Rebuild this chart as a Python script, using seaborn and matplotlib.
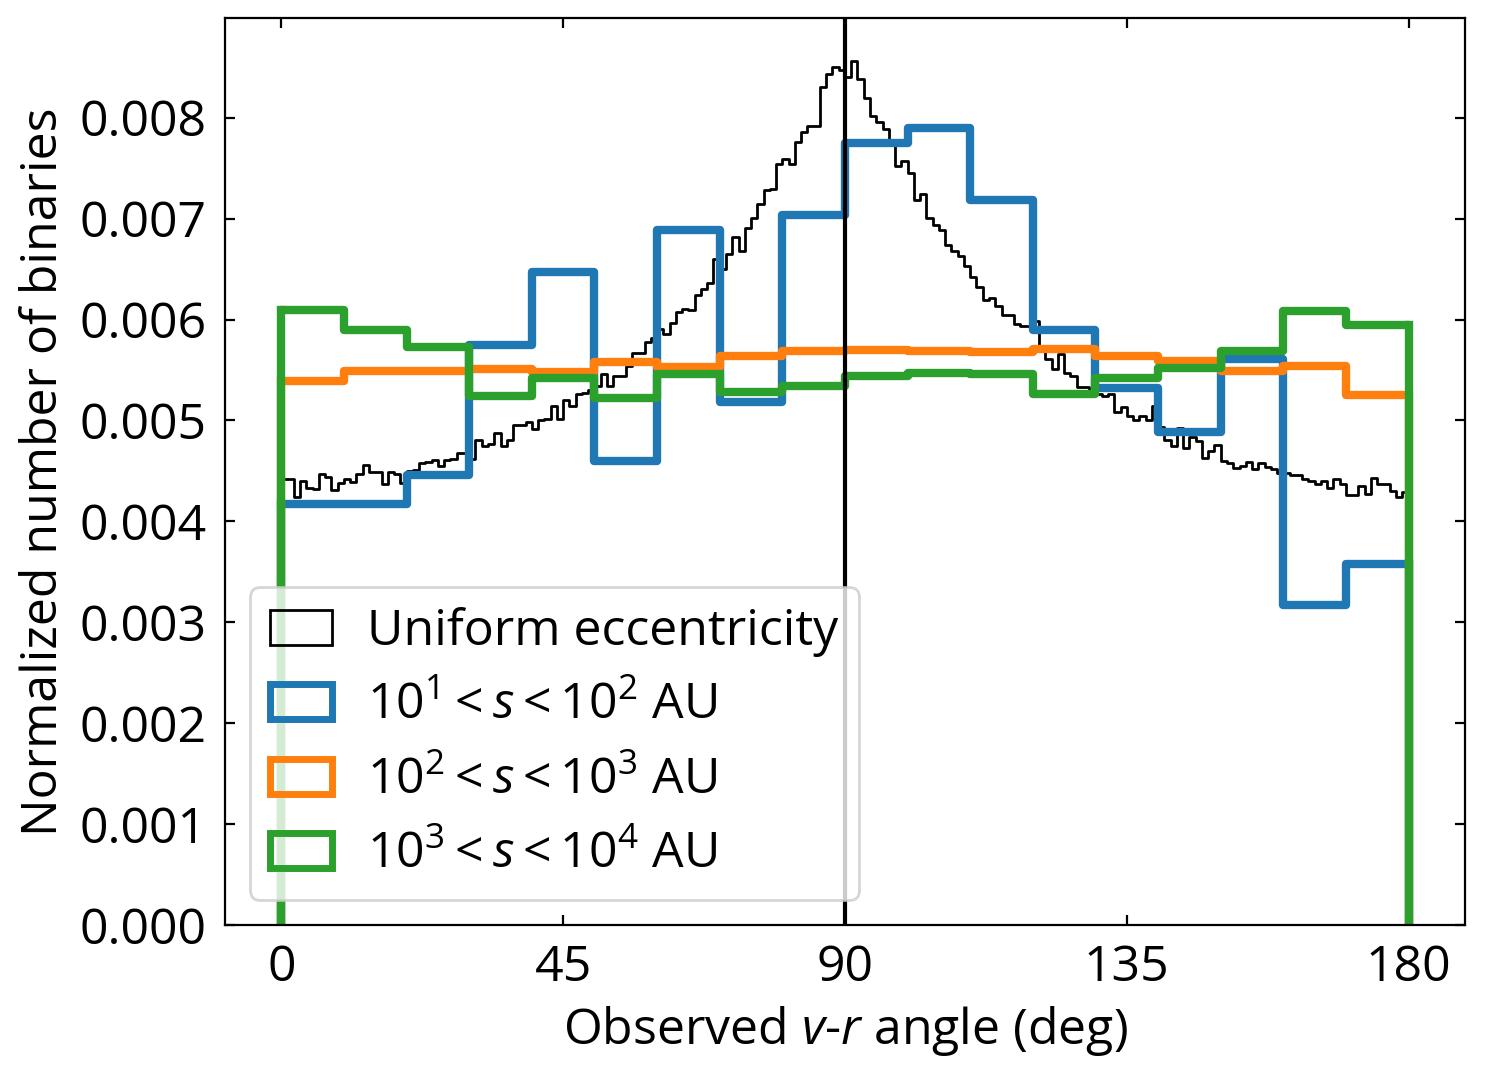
import numpy as np
import pandas as pd
import matplotlib
matplotlib.use("Agg")
import matplotlib.pyplot as plt
import seaborn as sns
from matplotlib.patches import Patch
from matplotlib.ticker import FormatStrFormatter

# ---------------- data ----------------
fine_edges = list(range(0, 181, 1))      # 1-degree bins
coarse_edges = list(range(0, 181, 10))   # 10-degree bins

uniform_ecc = [
    0.00442, 0.00442, 0.00424, 0.00440, 0.00433, 0.00432, 0.00447, 0.00444, 0.00431, 0.00438,
    0.00442, 0.00439, 0.00447, 0.00456, 0.00449, 0.00449, 0.00437, 0.00449, 0.00447, 0.00438,
    0.00450, 0.00451, 0.00458, 0.00459, 0.00461, 0.00455, 0.00461, 0.00462, 0.00468, 0.00468,
    0.00462, 0.00481, 0.00475, 0.00477, 0.00488, 0.00475, 0.00481, 0.00495, 0.00495, 0.00498,
    0.00492, 0.00500, 0.00501, 0.00514, 0.00501, 0.00520, 0.00514, 0.00526, 0.00527, 0.00530,
    0.00534, 0.00546, 0.00534, 0.00544, 0.00544, 0.00554, 0.00567, 0.00567, 0.00578, 0.00582,
    0.00591, 0.00586, 0.00597, 0.00607, 0.00610, 0.00609, 0.00624, 0.00630, 0.00636, 0.00660,
    0.00650, 0.00665, 0.00682, 0.00668, 0.00691, 0.00701, 0.00714, 0.00728, 0.00729, 0.00754,
    0.00759, 0.00754, 0.00776, 0.00786, 0.00792, 0.00792, 0.00830, 0.00843, 0.00850, 0.00847,
    0.00840, 0.00856, 0.00838, 0.00820, 0.00802, 0.00796, 0.00789, 0.00777, 0.00752, 0.00757,
    0.00745, 0.00718, 0.00724, 0.00701, 0.00694, 0.00689, 0.00674, 0.00668, 0.00663, 0.00653,
    0.00642, 0.00632, 0.00619, 0.00621, 0.00613, 0.00604, 0.00604, 0.00596, 0.00594, 0.00594,
    0.00599, 0.00570, 0.00561, 0.00551, 0.00566, 0.00547, 0.00544, 0.00533, 0.00533, 0.00530,
    0.00526, 0.00524, 0.00526, 0.00508, 0.00513, 0.00504, 0.00500, 0.00504, 0.00500, 0.00514,
    0.00494, 0.00481, 0.00475, 0.00493, 0.00473, 0.00484, 0.00480, 0.00463, 0.00470, 0.00476,
    0.00460, 0.00458, 0.00453, 0.00455, 0.00459, 0.00452, 0.00458, 0.00454, 0.00452, 0.00448,
    0.00448, 0.00446, 0.00446, 0.00442, 0.00440, 0.00437, 0.00440, 0.00433, 0.00442, 0.00437,
    0.00426, 0.00426, 0.00435, 0.00427, 0.00443, 0.00437, 0.00437, 0.00430, 0.00424, 0.00429,
]

sep_1e1_1e2 = [0.00417, 0.00417, 0.00446, 0.00575, 0.00647, 0.00460, 0.00689, 0.00518, 0.00704,
               0.00775, 0.00790, 0.00718, 0.00590, 0.00532, 0.00489, 0.00561, 0.00317, 0.00358]
sep_1e2_1e3 = [0.00539, 0.00549, 0.00549, 0.00551, 0.00548, 0.00558, 0.00553, 0.00564, 0.00569,
               0.00570, 0.00569, 0.00568, 0.00571, 0.00564, 0.00559, 0.00549, 0.00554, 0.00525]
sep_1e3_1e4 = [0.00609, 0.00590, 0.00573, 0.00524, 0.00542, 0.00522, 0.00546, 0.00528, 0.00534,
               0.00544, 0.00547, 0.00546, 0.00526, 0.00542, 0.00552, 0.00569, 0.00608, 0.00595]

legend_labels = ["Uniform eccentricity",
                 r"$10^1 < s < 10^2$ AU",
                 r"$10^2 < s < 10^3$ AU",
                 r"$10^3 < s < 10^4$ AU"]
x_ticks = [0, 45, 90, 135, 180]
y_ticks = [0.000, 0.001, 0.002, 0.003, 0.004, 0.005, 0.006, 0.007, 0.008]
ref_angle = 90

# ---------------- style ----------------
FS = 18
sns.set_style("ticks")
plt.rcParams.update({
    "font.family": ["Open Sans", "DejaVu Sans"],
    "font.size": FS,
    "mathtext.fontset": "custom",
    "mathtext.rm": "Open Sans",
    "mathtext.it": "Open Sans:italic",
    "mathtext.bf": "Open Sans:bold",
    "axes.edgecolor": "black",
    "axes.linewidth": 0.8,
    "text.color": "black",
    "axes.labelcolor": "black",
    "xtick.color": "black",
    "ytick.color": "black",
    "xtick.direction": "in",
    "ytick.direction": "in",
    "xtick.top": True,
    "ytick.right": True,
    "xtick.major.size": 3.5,
    "ytick.major.size": 3.5,
    "xtick.major.width": 0.8,
    "ytick.major.width": 0.8,
    "xtick.major.pad": 6.5,
    "ytick.major.pad": 6.5,
    "xtick.labelsize": FS,
    "ytick.labelsize": FS,
    "axes.labelsize": FS,
    "legend.fontsize": FS,
})

fig = plt.figure(figsize=(7.425, 5.385), dpi=200)
ax = fig.add_axes([0.1515, 0.1411, 0.835, 0.8422])

series = [
    (fine_edges, uniform_ecc, "black", 1.0),
    (coarse_edges, sep_1e1_1e2, "#1f77b4", 3.0),
    (coarse_edges, sep_1e2_1e3, "#ff7f0e", 3.0),
    (coarse_edges, sep_1e3_1e4, "#2ca02c", 3.0),
]

for edges, vals, color, lw in series:
    e = np.asarray(edges, dtype=float)
    df = pd.DataFrame({"angle": (e[:-1] + e[1:]) / 2, "w": np.asarray(vals, dtype=float)})
    sns.histplot(data=df, x="angle", weights="w", bins=list(edges), element="step",
                 fill=False, color=color, linewidth=lw, ax=ax)
    # outer edges of the step outline down to the baseline
    ax.vlines([edges[0], edges[-1]], 0, [vals[0], vals[-1]], colors=color,
              linewidth=lw, capstyle="projecting")

ax.axvline(ref_angle, color="black", linewidth=1.5, zorder=5)

ax.set_xlim(-9, 189)
ax.set_ylim(0, max(uniform_ecc) * 1.05)
ax.set_xticks(x_ticks)
ax.set_yticks(y_ticks)
ax.yaxis.set_major_formatter(FormatStrFormatter("%.3f"))
ax.set_xlabel(r"Observed $v$-$r$ angle (deg)")
ax.set_ylabel("Normalized number of binaries")

handles = [Patch(facecolor="none", edgecolor=c, linewidth=(1.0 if c == "black" else 2.5))
           for (_, _, c, _) in series]
ax.legend(handles, legend_labels, loc="lower left", handlelength=1.25, handletextpad=0.7)

fig.savefig("out.png", dpi=200)
